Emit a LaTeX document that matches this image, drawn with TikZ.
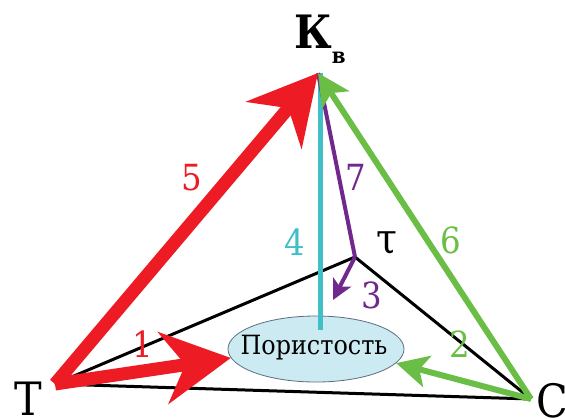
\documentclass[tikz,border=0pt]{standalone}
\usepackage{fontspec}
\setmainfont{DejaVu Serif Condensed}
\usetikzlibrary{arrows.meta, positioning, shapes}
\definecolor{kred}{RGB}{237,28,36}
\definecolor{kgreen}{RGB}{106,190,69}
\definecolor{kcyan}{RGB}{64,191,199}
\definecolor{kpurple}{RGB}{112,40,140}
\definecolor{kfill}{RGB}{204,234,242}
\definecolor{kline}{RGB}{90,110,130}
\tikzset{
    every node/.style={inner sep=0pt},
    edge/.style={line width=3pt, black},
    redarr/.style={line width=13pt, kred, -{Stealth[length=68pt, width=72pt, inset=22pt]}},
    grarr/.style={line width=6pt, kgreen, -{Stealth[length=32pt, width=32pt, inset=8pt]}},
    purarr/.style={line width=4pt, kpurple, -{Stealth[length=20pt, width=20pt, inset=5pt]}},
    num/.style={anchor=base, font=\fontsize{36}{36}\selectfont},
    vert/.style={anchor=base, font=\fontsize{46}{46}\selectfont}
}

\begin{document}
\begin{tikzpicture}[x=1pt, y=-1pt]
    \useasboundingbox (0,0) rectangle (565,418);

    \coordinate (T) at (55,384);
    \coordinate (C) at (531,399);
    \coordinate (K) at (318,73);
    \coordinate (tau) at (355,257);
    \coordinate (c4) at (320,330);
    \coordinate (p3) at (333,300);

    % base of the pyramid
    \draw[edge] (T) -- (tau) -- (C);
    \draw[edge] (T) -- (C);

    \node[ellipse, draw=kline, line width=0.8pt, fill=kfill,
        minimum width=176pt, minimum height=66pt] (por) at (316,349) {};
    \node[font=\fontsize{26.5}{26.5}\selectfont] (portext) at (314,348) {Пористость};

    \draw[kcyan, line width=5pt] ([xshift=2pt]K) -- (c4);
    \draw[kpurple, line width=4pt] (K) -- (tau);
    \draw[purarr] (tau) -- (p3);

    \draw[grarr] (C) -- (K);
    \draw[grarr] (C) -- (por.-10);

    \draw[redarr] (T) -- (K);
    \draw[redarr] (T) -- (por.186);

    % labels
    \node[num, kred] (n5) at (192,190) {5};
    \node[num, kred] (n1) at (143,357) {1};
    \node[num, kcyan] (n4) at (295,255) {4};
    \node[num, kpurple] (n7) at (356,190) {7};
    \node[num, kpurple] (n3) at (372,308) {3};
    \node[num, kgreen] (n6) at (451,253) {6};
    \node[num, kgreen] (n2) at (460,357) {2};

    \node[anchor=base, font=\fontsize{42}{42}\selectfont] (taulab) at (387,253) {τ};
    \node[vert] (Tlab) at (28,415) {Т};
    \node[vert] (Clab) at (552,417) {С};
    \node[anchor=base, font=\bfseries\fontsize{46}{46}\selectfont] (Kv) at (320,48)
        {К\raisebox{-15pt}{\fontsize{22}{22}\selectfont в}};
\end{tikzpicture}
\end{document}
